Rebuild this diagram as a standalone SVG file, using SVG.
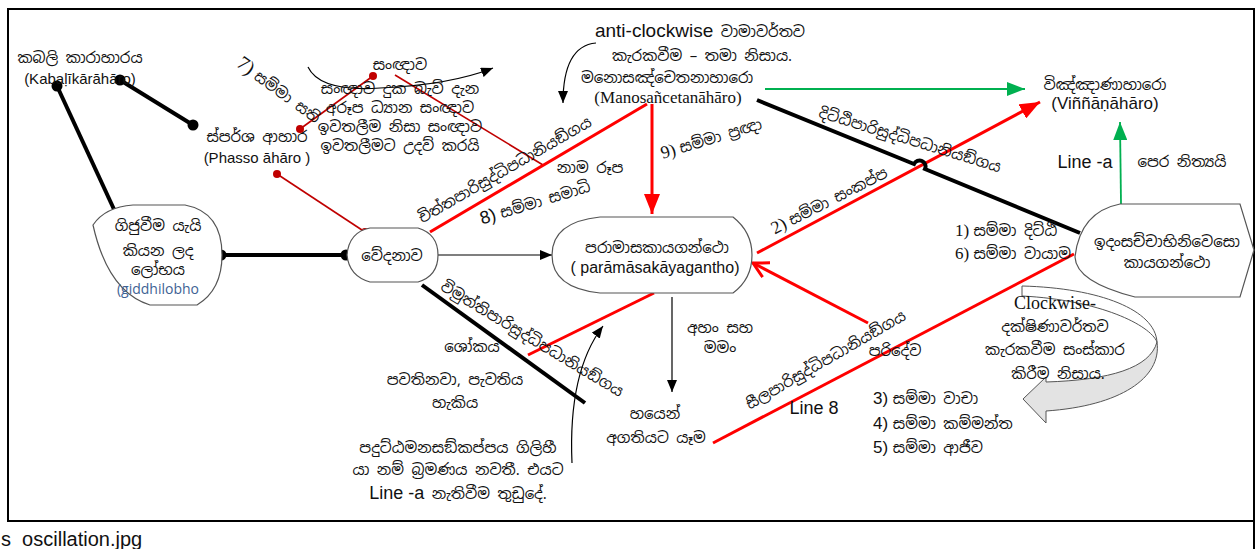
<svg xmlns="http://www.w3.org/2000/svg" width="1257" height="549" viewBox="0 0 1257 549">
<style>
.si{font-family:"Noto Sans Sinhala","Iskoola Pota","Noto Sans","DejaVu Sans",sans-serif;font-size:15px;fill:#111}
.la{font-family:"Liberation Sans",Arial,sans-serif;fill:#111}
.se{font-family:"Liberation Serif","Times New Roman",serif;fill:#111}
.c{text-anchor:middle}
.shape{fill:#fff;stroke:#555;stroke-width:1.2}
.thick{stroke:#000;stroke-width:4;fill:none}
.thin{stroke:#000;stroke-width:1.2;fill:none}
.dred{stroke:#c00000;stroke-width:1.6;fill:none}
.red{stroke:#ff0000;stroke-width:3;fill:none}
.green{stroke:#00b050;stroke-width:1.8;fill:none}
.bdot{fill:#000}
.rdot{fill:#c00000}
</style>
<defs>
<marker id="ab" markerUnits="userSpaceOnUse" markerWidth="12" markerHeight="10" refX="12" refY="5" orient="auto"><path d="M0,0 L12,5 L0,10 z" fill="#000"/></marker>
<marker id="ar" markerUnits="userSpaceOnUse" markerWidth="20" markerHeight="16" refX="20" refY="8" orient="auto"><path d="M0,0 L20,8 L0,16 z" fill="#ff0000"/></marker>
<marker id="aro" markerUnits="userSpaceOnUse" markerWidth="18" markerHeight="18" refX="16" refY="9" orient="auto"><path d="M1,1 L16,9 L1,17" fill="none" stroke="#ff0000" stroke-width="3"/></marker>
<marker id="ag" markerUnits="userSpaceOnUse" markerWidth="18" markerHeight="14" refX="18" refY="7" orient="auto"><path d="M0,0 L18,7 L0,14 z" fill="#00b050"/></marker>
</defs>
<rect x="0" y="0" width="1257" height="549" fill="#fff"/>
<rect x="8" y="9" width="1246" height="512" fill="none" stroke="#000" stroke-width="2"/>
<line x1="1254" y1="521" x2="1254" y2="549" stroke="#000" stroke-width="2"/>
<text class="la" x="1" y="546" font-size="20">s_oscillation.jpg</text>

<g id="connectors">
<line class="thick" x1="57" y1="86" x2="118" y2="218"/>
<line class="thick" x1="120" y1="80" x2="193" y2="125"/>
<line class="thick" x1="221" y1="255" x2="346" y2="255"/>
<line class="dred" x1="300" y1="129" x2="373" y2="76"/>
<line class="dred" x1="277" y1="174" x2="365" y2="232"/>
<line class="dred" x1="395" y1="75" x2="543" y2="165"/>
<path class="thin" d="M308,67 Q320,92 380,88 Q450,85 493,68" marker-end="url(#ab)"/>
<path class="thin" d="M596,43 Q563,46 563,103" marker-end="url(#ab)"/>
<line class="red" x1="647" y1="104" x2="430" y2="232"/>
<line class="red" x1="652" y1="104" x2="652" y2="214" marker-end="url(#ar)"/>
<line class="thin" x1="438" y1="255" x2="552" y2="255" marker-end="url(#ab)"/>
<line class="thin" x1="672" y1="297" x2="672" y2="392" marker-end="url(#ab)"/>
<path class="thin" d="M572,463 Q568,372 603,326" marker-end="url(#ab)"/>
<line class="thick" x1="422" y1="285" x2="585" y2="403"/>
<line class="red" x1="528" y1="355" x2="654" y2="293"/>
<line class="red" x1="757" y1="253" x2="1040" y2="102" marker-end="url(#ar)"/>
<line class="red" x1="713" y1="443" x2="1074" y2="254"/>
<line class="red" x1="868" y1="323" x2="753" y2="263" marker-end="url(#aro)"/>
<path class="thick" d="M757,100 L914,164 A6,6 0 0 1 925,169 L1080,233"/>
<line class="green" x1="765" y1="89" x2="1025" y2="89" marker-end="url(#ag)"/>
<line class="green" x1="1121" y1="204" x2="1120" y2="122" marker-end="url(#ag)"/>
</g>

<g id="dots">
<circle class="bdot" cx="57" cy="86" r="5.5"/>
<circle class="bdot" cx="120" cy="80" r="5.5"/>
<circle class="bdot" cx="193" cy="125" r="5.5"/>
<circle class="bdot" cx="118" cy="218" r="5.5"/>
<circle class="bdot" cx="221" cy="255" r="5.5"/>
<circle class="bdot" cx="346" cy="255" r="5.5"/>
<circle class="rdot" cx="300" cy="129" r="4"/>
<circle class="rdot" cx="373" cy="76" r="4"/>
<circle class="rdot" cx="277" cy="174" r="4"/>
<circle class="rdot" cx="365" cy="232" r="4"/>
</g>

<g id="kabali">
<text class="si c" x="80" y="63" font-size="16">කබලි කාරාහාරය</text>
<text class="la c" x="80" y="84" font-size="15">(Kabaḷīkārāhāro)</text>
</g>

<g id="phasso">
<text class="si c" x="257" y="142" font-size="16">ස්පර්ශ ආහාර</text>
<text class="la c" x="257" y="163" font-size="15">(Phasso āhāro )</text>
</g>

<g id="sanna">
<text class="si c" x="400" y="70">සංඥාව</text>
<text class="si c" x="400" y="94">සංඥාව දුක බැව් දැන</text>
<text class="si c" x="400" y="113">අරූප ධ්‍යාන සංඥාව</text>
<text class="si c" x="400" y="132">ඉවතලීම නිසා සංඥාව</text>
<text class="si c" x="400" y="151">ඉවතලීමට උදව් කරයි</text>
<text class="si c" x="279" y="96" font-size="18" transform="rotate(36 279 90)"><tspan class="se" font-size="20">7) </tspan>සම්මා සති</text>
</g>

<g id="gijjuvima">
<path class="shape" d="M93,225 Q105,207 133,205 L185,205 Q222,212 222,255 Q222,290 197,305 L150,305 Q108,292 93,225 Z"/>
<text class="si c" x="158" y="231" font-size="16">ගිජුවීම යැයි</text>
<text class="si c" x="158" y="256" font-size="16">කියන ලද</text>
<text class="si c" x="158" y="275" font-size="16">ලෝභය</text>
<text class="c" x="158" y="294" font-size="14" font-family="Open Sans, Liberation Sans, sans-serif" fill="#3e6294">(giddhilobho</text>
</g>

<g id="vedana">
<path class="shape" d="M370,228 L418,228 Q438,234 438,255 Q438,276 418,282 L370,282 Q349,276 347,255 Q349,232 370,228 Z"/>
<text class="si c" x="392" y="261" font-size="16">වේදනාව</text>
</g>

<g id="paramasa">
<path class="shape" d="M600,217 L733,217 Q752,232 752,255 Q752,279 733,293 L600,293 Q552,288 552,255 Q552,222 600,217 Z"/>
<text class="si c" x="657" y="253" font-size="16">පරාමාසකායගන්ථො</text>
<text class="la c" x="655" y="273" font-size="16">( parāmāsakāyagantho)</text>
</g>

<g id="manosancetana">
<text class="c" x="700" y="37" font-size="19"><tspan class="la">anti-clockwise</tspan><tspan class="si" font-size="16"> වාමාවර්තව</tspan></text>
<text class="si c" x="702" y="61" font-size="16">කැරකවීම – තමා නිසාය.</text>
<text class="si c" x="667" y="83" font-size="16">මනොසඤ්චෙතනාහාරො</text>
<text class="se c" x="668" y="103" font-size="17">(Manosañcetanāhāro)</text>
</g>

<g id="vinnana">
<text class="si c" x="1105" y="90">විඤ්ඤාණාහාරො</text>
<text class="la c" x="1105" y="109" font-size="17">(Viññāṇāhāro)</text>
<text class="la c" x="1085" y="168" font-size="18">Line -a</text>
<text class="si c" x="1182" y="167">පෙර නිත්‍යයි</text>
</g>

<g id="idam">
<path class="shape" d="M1120,204 L1240,204 L1254,250 L1240,297 L1135,297 Q1076,282 1075,257 Q1080,212 1120,204 Z"/>
<text class="si c" x="1167" y="247" font-size="16">ඉදංසච්චාභිනිවෙසො</text>
<text class="si c" x="1167" y="268" font-size="16">කායගන්ථො</text>
</g>

<g id="clockwise">
<path d="M1046,382 C1110,380 1150,368 1157,342 C1162,378 1120,406 1046,411 L1046,423 L1023,399 L1046,377 Z" fill="#e3e3e3" stroke="#555" stroke-width="1"/>
<path d="M1022,286 C1100,288 1155,310 1157,342 C1150,325 1100,300 1022,296 Z" fill="#fff" stroke="#555" stroke-width="1"/>
<text class="se c" x="1055" y="309" font-size="18">Clockwise-</text>
<text class="si c" x="1055" y="332">දක්ෂිණාවර්තව</text>
<text class="si c" x="1055" y="355">කැරකවීම සංස්කාර</text>
<text class="si c" x="1058" y="379">කිරීම නිසාය.</text>
</g>

<g id="labels">
<text class="si" x="955" y="236" font-size="16"><tspan class="se" font-size="17">1) </tspan>සම්මා දිට්ඨි</text>
<text class="si" x="955" y="259" font-size="16"><tspan class="se" font-size="17">6) </tspan>සම්මා වායාම</text>
<text class="si" x="873" y="404" font-size="16"><tspan class="la" font-size="17">3) </tspan>සම්මා වාචා</text>
<text class="si" x="873" y="429" font-size="16"><tspan class="la" font-size="17">4) </tspan>සම්මා කම්මන්ත</text>
<text class="si" x="873" y="453" font-size="16"><tspan class="la" font-size="17">5) </tspan>සම්මා ආජීව</text>
<text class="la c" x="814" y="414" font-size="18">Line 8</text>
<text class="si c" x="895" y="356">පරිදේව</text>
<text class="si c" x="590" y="173">නාම රූප</text>
<text class="si c" x="720" y="333">අහං සහ</text>
<text class="si c" x="720" y="353">මමං</text>
<text class="si c" x="472" y="352">ශෝකය</text>
<text class="si c" x="455" y="385">පවතිනවා, පැවතිය</text>
<text class="si c" x="455" y="408">හැකිය</text>
<text class="si c" x="458" y="453">පදුට්ඨමනසඞ්කප්පය ගිලිහී</text>
<text class="si c" x="458" y="475">යා නම් බ්‍රමණය නවතී. එයට</text>
<text class="c" x="458" y="499" font-size="16"><tspan class="la" font-size="18">Line -a</tspan><tspan class="si"> නැතිවීම තුඩුදේ.</tspan></text>
<text class="si c" x="655" y="419" font-size="16">හයෙන්</text>
<text class="si c" x="656" y="443" font-size="16">අගතියට යෑම</text>
<text class="si c" x="910" y="145" transform="rotate(17 910 140)">දිට්ඨිපාරිසුද්ධිපධානියඞ්ගය</text>
<text class="si c" x="829" y="206" font-size="16" transform="rotate(-27 829 200)"><tspan class="se" font-size="18">2) </tspan>සම්මා සංකප්ප</text>
<text class="si c" x="711" y="144" font-size="16" transform="rotate(-17 711 138)"><tspan class="se" font-size="18">9) </tspan>සම්මා ප්‍රඥා</text>
<text class="si c" x="535" y="208" font-size="16" transform="rotate(-17 535 202)"><tspan class="la" font-size="18">8) </tspan>සම්මා සමාධි</text>
<text class="si c" x="505" y="175" transform="rotate(-30 505 170)">චිත්තපාරිසුද්ධිපධානියඞ්ගය</text>
<text class="si c" x="532" y="344" transform="rotate(31 532 339)">විමුත්තිපාරිසුද්ධිපධානියඞ්ගය</text>
<text class="si c" x="826" y="365" transform="rotate(-30 826 360)">සීලපාරිසුද්ධිපධානියඞ්ගය</text>
</g>
</svg>
